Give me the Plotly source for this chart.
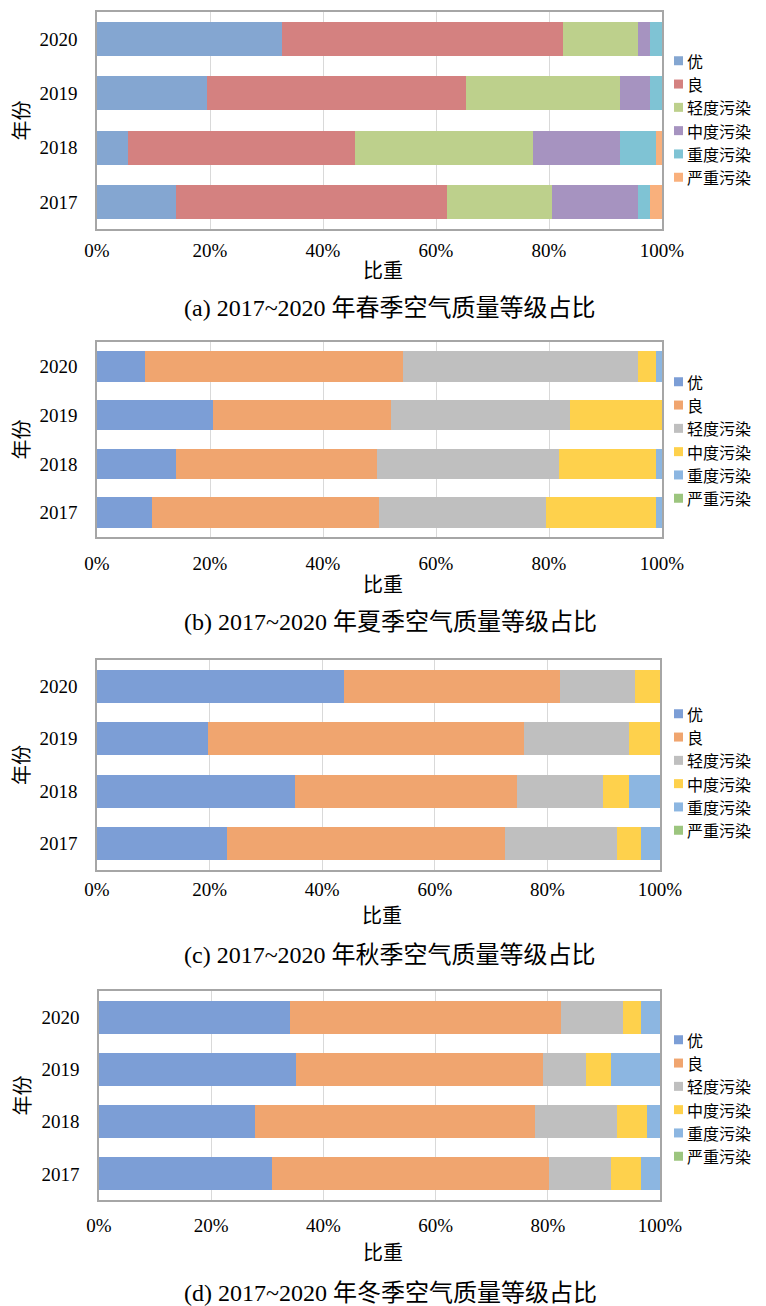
import plotly.graph_objects as go

# Air-quality level shares (%) per year, one list per level, for each season
years = ["2017", "2018", "2019", "2020"]
levels = ["优", "良", "轻度污染", "中度污染", "重度污染", "严重污染"]
x_ticks = [0, 20, 40, 60, 80, 100]
x_tick_text = ["0%", "20%", "40%", "60%", "80%", "100%"]

spring = [
    [14.0, 5.4, 19.5, 32.7],
    [48.0, 40.3, 45.8, 49.8],
    [18.5, 31.5, 27.2, 13.2],
    [15.2, 15.3, 5.4, 2.2],
    [2.2, 6.5, 2.1, 2.1],
    [2.1, 1.0, 0.0, 0.0],
]
summer = [
    [9.8, 13.9, 20.6, 8.5],
    [40.1, 35.6, 31.5, 45.7],
    [29.5, 32.2, 31.6, 41.6],
    [19.6, 17.3, 16.3, 3.2],
    [1.0, 1.0, 0.0, 1.0],
    [0.0, 0.0, 0.0, 0.0],
]
autumn = [
    [23.1, 35.2, 19.8, 43.8],
    [49.3, 39.4, 56.0, 38.4],
    [19.9, 15.3, 18.7, 13.3],
    [4.3, 4.6, 5.5, 4.5],
    [3.4, 5.5, 0.0, 0.0],
    [0.0, 0.0, 0.0, 0.0],
]
winter = [
    [30.8, 27.8, 35.2, 34.1],
    [49.4, 50.0, 43.9, 48.2],
    [11.0, 14.5, 7.7, 11.1],
    [5.4, 5.4, 4.4, 3.2],
    [3.4, 2.3, 8.8, 3.4],
    [0.0, 0.0, 0.0, 0.0],
]
captions = [
    "(a) 2017~2020 年春季空气质量等级占比",
    "(b) 2017~2020 年夏季空气质量等级占比",
    "(c) 2017~2020 年秋季空气质量等级占比",
    "(d) 2017~2020 年冬季空气质量等级占比",
]

colors_spring = ["#84a6d1", "#d48180", "#bdd08c", "#a693c0", "#7fc3d4", "#f9b07c"]
colors_other = ["#7c9ed6", "#f0a56f", "#bfbfbf", "#fed14c", "#8cb6e1", "#9cc57e"]

W, H = 766, 1306
FONT = "Liberation Serif, Noto Sans CJK SC, serif"
CJK = "Noto Sans CJK SC, Liberation Serif, serif"
LEG_FONT = 16
LEG_STEP = 23.3

# panel geometry in pixels:
# (x0, x1, y_top, y_bottom, tick_y, title_y, caption_y, legend_centre)
panels = [
    (97, 662, 12, 229, 250, 271, 308, 119),
    (97, 662, 342, 537, 563, 585, 622, 440),
    (97, 660, 660, 870, 889, 916, 955, 772),
    (99, 660, 991, 1200, 1225, 1253, 1293, 1098),
]


def px(v):
    return v / W


def py(v):
    return 1 - v / H


fig = go.Figure()
seasons = [spring, summer, autumn, winter]
palettes = [colors_spring, colors_other, colors_other, colors_other]
annotations = []
shapes = []

for i, (data, pal, geo, cap) in enumerate(zip(seasons, palettes, panels, captions)):
    x0, x1, yt, yb, tick_y, title_y, cap_y, leg_mid = geo
    n = i + 1
    xa = "x" if n == 1 else f"x{n}"
    ya = "y" if n == 1 else f"y{n}"
    for name, vals, col in zip(levels, data, pal):
        fig.add_trace(go.Bar(
            y=years, x=vals, name=name, orientation="h",
            marker=dict(color=col, line=dict(width=0)),
            xaxis=xa, yaxis=ya, hoverinfo="skip", showlegend=False,
        ))
    sfx = "" if n == 1 else str(n)
    fig.update_layout(**{
        f"xaxis{sfx}": dict(
            domain=[px(x0), px(x1)], anchor=ya, range=[0, 100],
            tickmode="array", tickvals=x_ticks, ticktext=x_tick_text,
            showgrid=True, gridcolor="#d9d9d9", gridwidth=1, zeroline=False,
            showline=True, linecolor="#a6a6a6", linewidth=1.5, mirror=True,
            ticks="outside", ticklen=tick_y - yb - 18, tickcolor="rgba(0,0,0,0)",
            tickfont=dict(family=FONT, size=19, color="#000"),
            fixedrange=True,
        ),
        f"yaxis{sfx}": dict(
            domain=[py(yb), py(yt)], anchor=xa, type="category",
            categoryorder="array", categoryarray=years, range=[-0.5, 3.5],
            showline=True, linecolor="#a6a6a6", linewidth=1.5, mirror=True,
            showgrid=False, ticks="outside", ticklen=14, tickcolor="rgba(0,0,0,0)",
            tickfont=dict(family=FONT, size=19, color="#000"),
            fixedrange=True,
        ),
    })

    # legend: colour swatch plus level name for each series
    for k, (name, col) in enumerate(zip(levels, pal)):
        cy = leg_mid + (k - 2.5) * LEG_STEP
        shapes.append(dict(
            type="rect", xref="paper", yref="paper",
            x0=px(674), x1=px(683), y0=py(cy + 4.5), y1=py(cy - 4.5),
            fillcolor=col, line=dict(width=0),
        ))
        annotations.append(dict(
            text=name, x=px(686), y=py(cy), xref="paper", yref="paper",
            showarrow=False, font=dict(family=CJK, size=LEG_FONT, color="#000"),
            xanchor="left", yanchor="middle", borderpad=0,
        ))

    annotations.append(dict(
        text="比重", x=px((x0 + x1) / 2 + 3), y=py(title_y), xref="paper", yref="paper",
        showarrow=False, font=dict(family=FONT, size=20, color="#000"),
        xanchor="center", yanchor="middle",
    ))
    annotations.append(dict(
        text="年份", x=px(22), y=py((yt + yb) / 2), xref="paper", yref="paper",
        showarrow=False, textangle=-90, font=dict(family=FONT, size=20, color="#000"),
        xanchor="center", yanchor="middle",
    ))
    annotations.append(dict(
        text=cap, x=px(390), y=py(cap_y), xref="paper", yref="paper",
        showarrow=False, font=dict(family=FONT, size=24, color="#000"),
        xanchor="center", yanchor="middle",
    ))

fig.update_layout(
    width=W, height=H,
    margin=dict(l=0, r=0, t=0, b=0, autoexpand=False),
    barmode="stack", bargap=0.37,
    paper_bgcolor="white", plot_bgcolor="white",
    annotations=annotations, shapes=shapes, showlegend=False,
)

fig.write_html("out.html", config={"displayModeBar": False})
